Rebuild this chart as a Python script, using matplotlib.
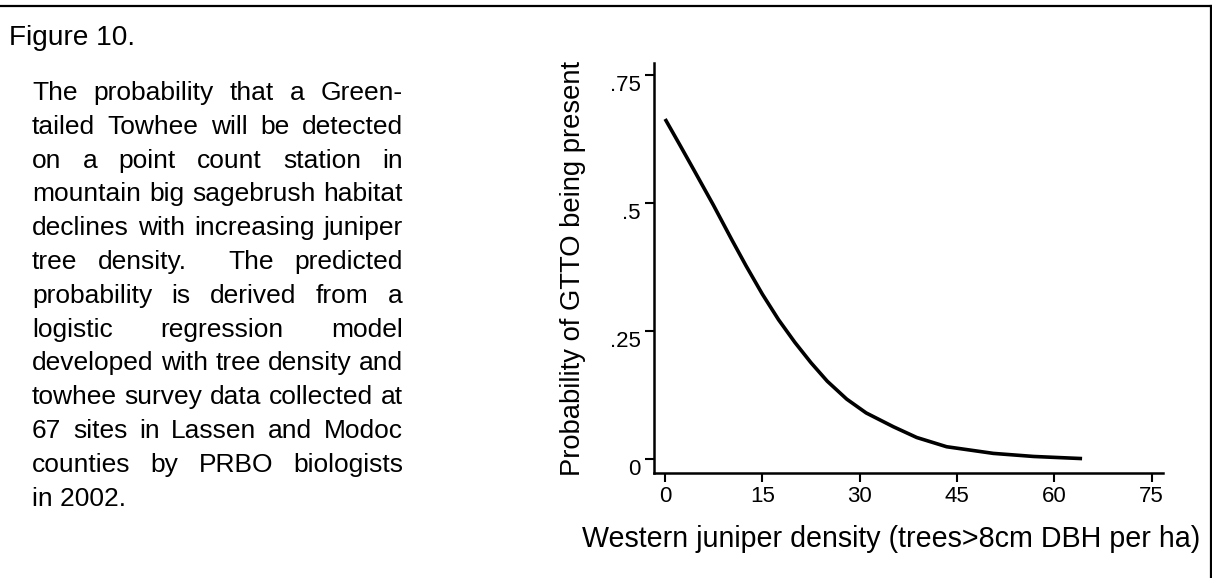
import matplotlib
matplotlib.use("Agg")
import matplotlib.pyplot as plt
from matplotlib.lines import Line2D

plt.rcParams["font.family"] = ["Liberation Sans", "DejaVu Sans"]

# curve (trees per ha vs predicted probability)
density = [0.15, 2.3, 4.6, 7.45, 10.3, 12.5, 15.0, 17.5, 20.0, 22.5,
           25.0, 28.0, 31.0, 35.2, 38.8, 43.4, 50.6, 56.8, 64.0]
prob = [0.661, 0.613, 0.561, 0.496, 0.428, 0.377, 0.322, 0.272, 0.228, 0.188,
        0.152, 0.117, 0.090, 0.063, 0.042, 0.024, 0.011, 0.005, 0.001]

x_ticks = [0, 15, 30, 45, 60, 75]
y_ticks = [0, 0.25, 0.5, 0.75]
y_tick_labels = ["0", ".25", ".5", ".75"]

fig_title = "Figure 10."
caption_lines = [
    "The probability that a Green-",
    "tailed Towhee will be detected",
    "on a point count station in",
    "mountain big sagebrush habitat",
    "declines with increasing juniper",
    "tree density.  The predicted",
    "probability is derived from a",
    "logistic regression model",
    "developed with tree density and",
    "towhee survey data collected at",
    "67 sites in Lassen and Modoc",
    "counties by PRBO biologists",
    "in 2002.",
]
x_label = "Western juniper density (trees>8cm DBH per ha)"
y_label = "Probability of GTTO being present"

W, H = 1212, 578
FS = 19


def fpos(x, y):
    # pixel coords (from top-left) -> figure fraction
    return x / W, 1 - y / H


fig = plt.figure(figsize=(W / 100, H / 100), dpi=100)
fig.patch.set_facecolor("white")

ax = fig.add_axes([654 / W, (H - 473) / H, 509 / W, 410 / H])
ax.plot(density, prob, color="black", linewidth=2.6)
ax.set_xlim(-1.7, 76.75)
ax.set_ylim(-0.0273, 0.7734)
ax.spines[["top", "right"]].set_visible(False)
for s in ("left", "bottom"):
    ax.spines[s].set_linewidth(1.8)
ax.set_xticks(x_ticks)
ax.set_yticks(y_ticks, y_tick_labels)
ax.tick_params(direction="out", length=6.5, width=1.5, labelsize=16)
ax.tick_params(axis="x", pad=3.2)
ax.tick_params(axis="y", pad=3)
for lab in ax.get_yticklabels():
    lab.set_verticalalignment("top")

fig.text(*fpos(1200, 547), x_label, ha="right", va="baseline", fontsize=20.6)
fig.text(*fpos(573, 268), y_label, rotation=90, ha="center", va="center", fontsize=19.7)

# caption, justified like the original word-processor text
fig.text(*fpos(9, 45), fig_title, ha="left", va="baseline", fontsize=20.2)
renderer = fig.canvas.get_renderer()
left, right = 32, 403
for i, line in enumerate(caption_lines):
    base = 100 + i * 33.8
    if i == len(caption_lines) - 1:
        fig.text(*fpos(left, base), line, ha="left", va="baseline", fontsize=FS)
        continue
    words, gaps = [], []
    for part in line.split(" "):
        if part:
            words.append(part)
            gaps.append(1)
        else:
            gaps[-1] += 1
    gaps[-1] = 0
    texts = [fig.text(0, 0, w, ha="left", va="baseline", fontsize=FS) for w in words]
    widths = [t.get_window_extent(renderer).width for t in texts]
    gap = (right - left - sum(widths)) / sum(gaps)
    x = left
    for t, w, g in zip(texts, widths, gaps):
        t.set_position(fpos(x, base))
        x += w + g * gap

# frame lines along the top and right edges
fig.add_artist(Line2D([0, 1211 / W], [1 - 6 / H] * 2, transform=fig.transFigure,
                      color="black", linewidth=1.6))
fig.add_artist(Line2D([1211 / W] * 2, [1 - 6 / H, 0], transform=fig.transFigure,
                      color="black", linewidth=1.6))

fig.savefig("out.png", dpi=100, facecolor="white")
